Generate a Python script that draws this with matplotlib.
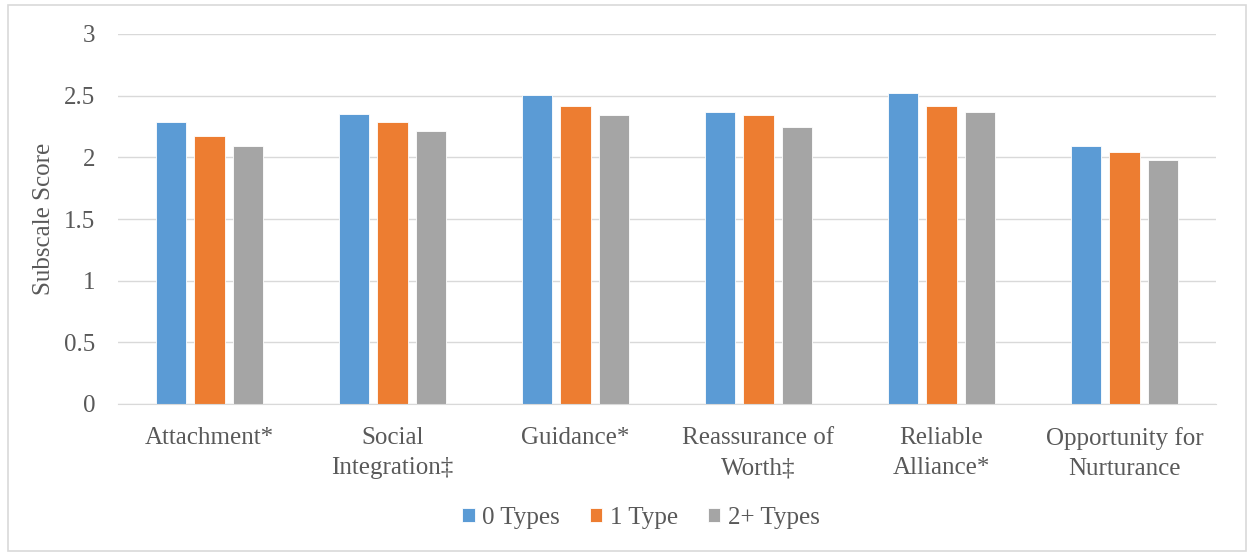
import numpy as np
import matplotlib.pyplot as plt
from matplotlib.patches import Rectangle

plt.rcParams['font.family'] = ['Liberation Serif', 'DejaVu Serif']

# data
categories = ['Attachment*', 'Social\nIntegration\u2021', 'Guidance*',
              'Reassurance of\nWorth\u2021', 'Reliable\nAlliance*', 'Opportunity for\nNurturance']
series_names = ['0 Types', '1 Type', '2+ Types']
zero_types = [2.29, 2.35, 2.505, 2.37, 2.52, 2.09]
one_type = [2.17, 2.29, 2.42, 2.34, 2.42, 2.04]
two_plus_types = [2.09, 2.21, 2.34, 2.25, 2.37, 1.98]
colors = ['#5B9BD5', '#ED7D31', '#A5A5A5']

text_color = '#595959'
grid_color = '#D9D9D9'

fig = plt.figure(figsize=(12.49, 5.53), dpi=100)
ax = fig.add_axes([118 / 1249, 1 - 404 / 553, 1098 / 1249, 370 / 553])

x = np.arange(len(categories))
width = 0.164
offset = 0.208
for i, (vals, name) in enumerate(zip([zero_types, one_type, two_plus_types], series_names)):
    ax.bar(x + (i - 1) * offset, vals, width, color=colors[i], label=name,
           edgecolor='white', linewidth=0.6, zorder=3)

ax.set_xlim(-0.5, len(categories) - 0.5)
ax.set_ylim(0, 3)
ax.set_yticks(np.arange(0, 3.01, 0.5))
ax.set_yticklabels(['0', '0.5', '1', '1.5', '2', '2.5', '3'])
ax.set_xticks(x)
ax.set_xticklabels(categories, linespacing=1.5)
ax.grid(axis='y', color=grid_color, linewidth=1, zorder=0)
for s in ['top', 'right', 'left']:
    ax.spines[s].set_visible(False)
ax.spines['bottom'].set_color(grid_color)
ax.spines['bottom'].set_zorder(4)
ax.tick_params(axis='both', length=0, labelsize=18, colors=text_color)
ax.tick_params(axis='y', pad=16.5)
ax.tick_params(axis='x', pad=16.5)
ax.set_ylabel('Subscale Score', fontsize=18, color=text_color)
ax.yaxis.set_label_coords(-0.0575, 0.5)

leg = fig.legend(loc='center', bbox_to_anchor=(641 / 1249, 1 - 518 / 553), ncol=3,
                 frameon=False, fontsize=18, handlelength=0.5, handleheight=0.5,
                 handletextpad=0.3, columnspacing=1.2)
for t in leg.get_texts():
    t.set_color(text_color)

# outer chart border
fig.patches.append(Rectangle((8 / 1249, 2 / 553), 1238 / 1249, 546 / 553,
                             transform=fig.transFigure, fill=False,
                             edgecolor=grid_color, linewidth=1.2))

fig.savefig('out.png', dpi=100)
